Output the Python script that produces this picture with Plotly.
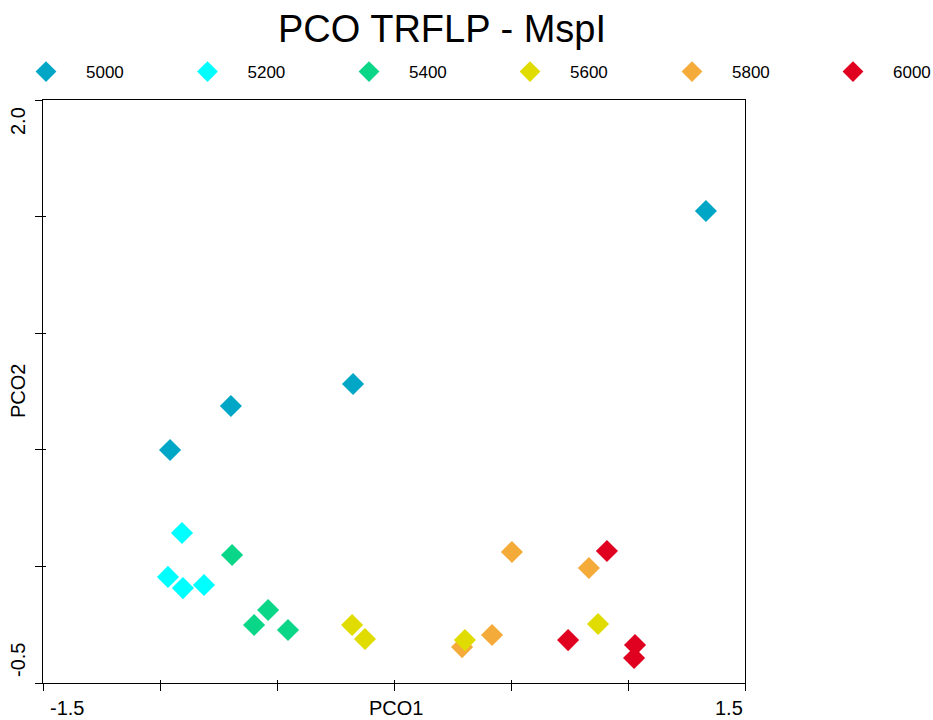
import plotly.graph_objects as go

# PCO ordination scores per group (PCO1, PCO2)
groups = ["5000", "5200", "5400", "5600", "5800", "6000"]
colors = ["#00A6C6", "#00FFFF", "#0AD687", "#E1DC00", "#F5AB3A", "#E0001F"]

pco1_5000 = [1.333, -0.175, -0.697, -0.957]
pco2_5000 = [1.524, 0.782, 0.688, 0.499]

pco1_5200 = [-0.906, -0.966, -0.902, -0.812]
pco2_5200 = [0.143, -0.045, -0.093, -0.080]

pco1_5400 = [-0.692, -0.538, -0.598, -0.453]
pco2_5400 = [0.049, -0.187, -0.251, -0.273]

pco1_5600 = [-0.179, -0.124, 0.303, 0.872]
pco2_5600 = [-0.251, -0.311, -0.316, -0.247]

pco1_5800 = [0.504, 0.833, 0.419, 0.291]
pco2_5800 = [0.062, -0.007, -0.294, -0.346]

pco1_6000 = [0.910, 0.744, 1.030, 1.026]
pco2_6000 = [0.066, -0.316, -0.337, -0.393]

series = {
    "5000": (pco1_5000, pco2_5000),
    "5200": (pco1_5200, pco2_5200),
    "5400": (pco1_5400, pco2_5400),
    "5600": (pco1_5600, pco2_5600),
    "5800": (pco1_5800, pco2_5800),
    "6000": (pco1_6000, pco2_6000),
}

x_ticks = [-1.5, -1.0, -0.5, 0.0, 0.5, 1.0, 1.5]
y_ticks = [-0.5, 0.0, 0.5, 1.0, 1.5, 2.0]

# 5800 is drawn beneath 5600
draw_order = ["5000", "5200", "5400", "5800", "5600", "6000"]

FONT = "Liberation Sans, Arial, sans-serif"
W, H = 933, 720
L, R, T, B = 43, 188, 100, 37

# one legend box per group, laid out in a single row across the top
legend_left = [6, 167.5, 329, 490, 652, 813]
legend_ids = ["legend"] + [f"legend{k}" for k in range(2, 7)]

fig = go.Figure()
for name in draw_order:
    i = groups.index(name)
    xs, ys = series[name]
    fig.add_trace(go.Scatter(
        x=xs, y=ys, mode="markers", name=name,
        legend=legend_ids[i],
        marker=dict(symbol="diamond", size=17, color=colors[i], line=dict(width=0)),
    ))

# invisible helper trace so the overlay axes (short inner tick stubs) are drawn
fig.add_trace(go.Scatter(x=[None], y=[None], xaxis="x2", yaxis="y2",
                         showlegend=False, hoverinfo="skip"))

legend_layout = {}
for i, lid in enumerate(legend_ids):
    legend_layout[lid] = dict(
        orientation="h", xref="container", yref="container",
        x=legend_left[i] / W, xanchor="left",
        y=1 - 72 / H, yanchor="middle",
        itemwidth=70, font=dict(size=17, family=FONT, color="black"),
        bgcolor="rgba(0,0,0,0)", itemsizing="trace",
    )

axis_common = dict(showgrid=False, zeroline=False, tickcolor="black")

fig.update_layout(
    width=W, height=H, autosize=False,
    margin=dict(l=L, r=R, t=T, b=B, pad=0, autoexpand=False),
    paper_bgcolor="white", plot_bgcolor="white",
    font=dict(family=FONT, color="black"),
    title=dict(text="PCO TRFLP - MspI", x=442 / W, xref="container", xanchor="center",
               y=1 - 29 / H, yref="container", yanchor="middle",
               font=dict(size=38, family=FONT, color="black")),
    showlegend=True,
    xaxis=dict(range=[-1.5, 1.5], tickvals=x_ticks, ticktext=[""] * len(x_ticks),
               showline=True, linecolor="black", linewidth=1, mirror=True,
               ticks="outside", ticklen=7, **axis_common),
    yaxis=dict(range=[-0.5, 2.0], tickvals=y_ticks, ticktext=[""] * len(y_ticks),
               showline=True, linecolor="black", linewidth=1, mirror=True,
               ticks="outside", ticklen=7, **axis_common),
    xaxis2=dict(range=[-1.5, 1.5], tickvals=x_ticks, ticktext=[""] * len(x_ticks),
                overlaying="x", side="bottom", showline=False,
                ticks="inside", ticklen=3, **axis_common),
    yaxis2=dict(range=[-0.5, 2.0], tickvals=y_ticks, ticktext=[""] * len(y_ticks),
                overlaying="y", side="left", showline=False,
                ticks="inside", ticklen=3, **axis_common),
    **legend_layout,
)

pw, ph = W - L - R, H - T - B
def px(xp):
    return (xp - L) / pw
def py(yp):
    return (H - B - yp) / ph

lab = dict(size=20, family=FONT, color="black")
annos = [
    dict(text="-1.5", x=px(67), y=py(708)),
    dict(text="1.5", x=px(729), y=py(708)),
    dict(text="PCO1", x=px(396), y=py(708)),
    dict(text="2.0", x=px(18), y=py(121), textangle=-90),
    dict(text="-0.5", x=px(18), y=py(660), textangle=-90),
    dict(text="PCO2", x=px(18), y=py(391), textangle=-90),
]
for a in annos:
    fig.add_annotation(xref="paper", yref="paper", showarrow=False,
                       xanchor="center", yanchor="middle", font=lab, **a)

fig.write_html("out.html")
